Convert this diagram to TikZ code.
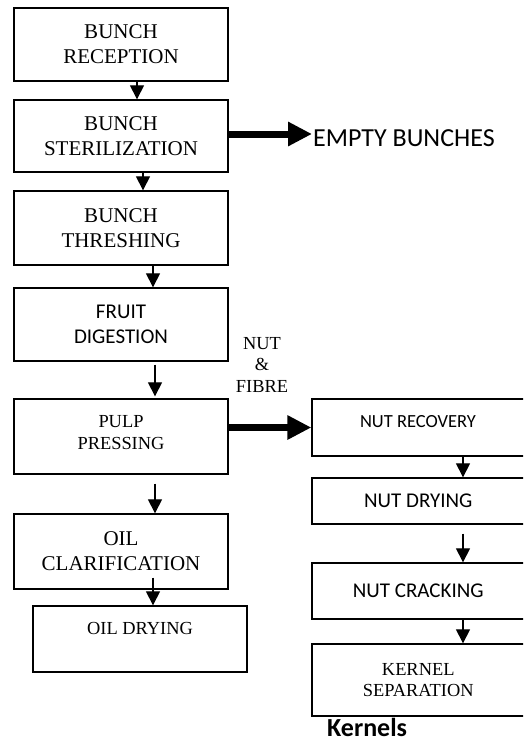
\documentclass[tikz,border=0pt]{standalone}
\usepackage{fontspec}
\setmainfont{Liberation Serif}
\newfontfamily\calibrifont{Carlito}
\usetikzlibrary{arrows.meta}
\begin{document}
\begin{tikzpicture}[x=1pt,y=-1pt,
 box/.style={draw,line width=1.3pt,inner sep=0pt,minimum width=214pt,align=center},
 rbox/.style={draw,line width=1.3pt,inner sep=0pt,minimum width=212.5pt,align=center},
 arr/.style={line width=1.1pt,-{Triangle[length=14pt,width=14pt]}},
 thickarr/.style={line width=7pt,-{Triangle[length=24pt,width=23pt]}},
 tms/.style={font=\fontsize{21}{25}\selectfont},
 tmss/.style={font=\fontsize{18.4}{21.5}\selectfont},
 clb/.style={font=\calibrifont\fontsize{21}{25}\selectfont},
 lbl/.style={inner sep=0pt,align=center},
]
\useasboundingbox (0,0) rectangle (523,742);
\clip (0,0) rectangle (523,742);

% left column
\node[box,tms,minimum height=73pt] (b1) at (121,44.5) {BUNCH\\RECEPTION};
\node[box,tms,minimum height=72pt] (b2) at (121,136) {BUNCH\\STERILIZATION};
\node[box,tms,minimum height=74pt] (b3) at (121,228) {BUNCH\\THRESHING};
\node[box,clb,minimum height=73pt] (b4) at (121,324.5) {FRUIT\\DIGESTION};
\node[box,minimum height=75pt] (b5) at (121,436.5) {};
\node[lbl,tmss] (t5) at (121,432.5) {PULP\\PRESSING};
\node[box,tms,minimum height=75pt] (b6) at (121,551.5) {OIL\\CLARIFICATION};
\node[box,minimum height=66pt] (b7) at (140,639) {};
\node[lbl,tmss] (t7) at (140,628) {OIL DRYING};

% right column
\node[rbox,minimum height=57pt] (r1) at (418.25,427.5) {};
\node[lbl,font=\calibrifont\fontsize{18.5}{22}\selectfont] (tr1) at (418,422) {NUT RECOVERY};
\node[rbox,clb,minimum height=46pt] (r2) at (418.25,501) {NUT DRYING};
\node[rbox,clb,minimum height=56pt] (r3) at (418.25,591) {NUT CRACKING};
\node[rbox,tmss,minimum height=72pt] (r4) at (418.25,680) {KERNEL\\SEPARATION};

% texts
\node[lbl,anchor=west,font=\calibrifont\fontsize{26}{30}\selectfont] (eb) at (313,138) {EMPTY BUNCHES};
\node[lbl,tmss] (nf) at (262,364.5) {NUT\\\&\\FIBRE};
\node[lbl,anchor=west,font=\calibrifont\bfseries\fontsize{26}{30}\selectfont] (kn) at (327,727) {Kernels};

% thin arrows
\draw[arr] ([xshift=16pt]b1.south) -- ([xshift=16pt]b2.north);
\draw[arr] ([xshift=22pt]b2.south) -- ([xshift=22pt]b3.north);
\draw[arr] ([xshift=32pt]b3.south) -- ([xshift=32pt]b4.north);
\draw[arr] ([xshift=34pt,yshift=-3pt]b4.south) -- ([xshift=34pt,yshift=2pt]b5.north);
\draw[arr] ([xshift=34pt,yshift=-9pt]b5.south) -- ([xshift=34pt]b6.north);
\draw[arr] ([xshift=32pt,yshift=12pt]b6.south) -- ([xshift=13pt]b7.north);
\draw[arr] ([xshift=44.75pt]r1.south) -- ([xshift=44.75pt]r2.north);
\draw[arr] ([xshift=44.75pt,yshift=-9pt]r2.south) -- ([xshift=44.75pt]r3.north);
\draw[arr] ([xshift=44.75pt]r3.south) -- ([xshift=44.75pt]r4.north);

% thick arrows
\draw[thickarr] ([yshift=2pt]b2.east) -- ([xshift=-1pt,yshift=4pt]eb.west);
\draw[thickarr] (b5.east |- r1.west) -- (r1.west);
\end{tikzpicture}
\end{document}
